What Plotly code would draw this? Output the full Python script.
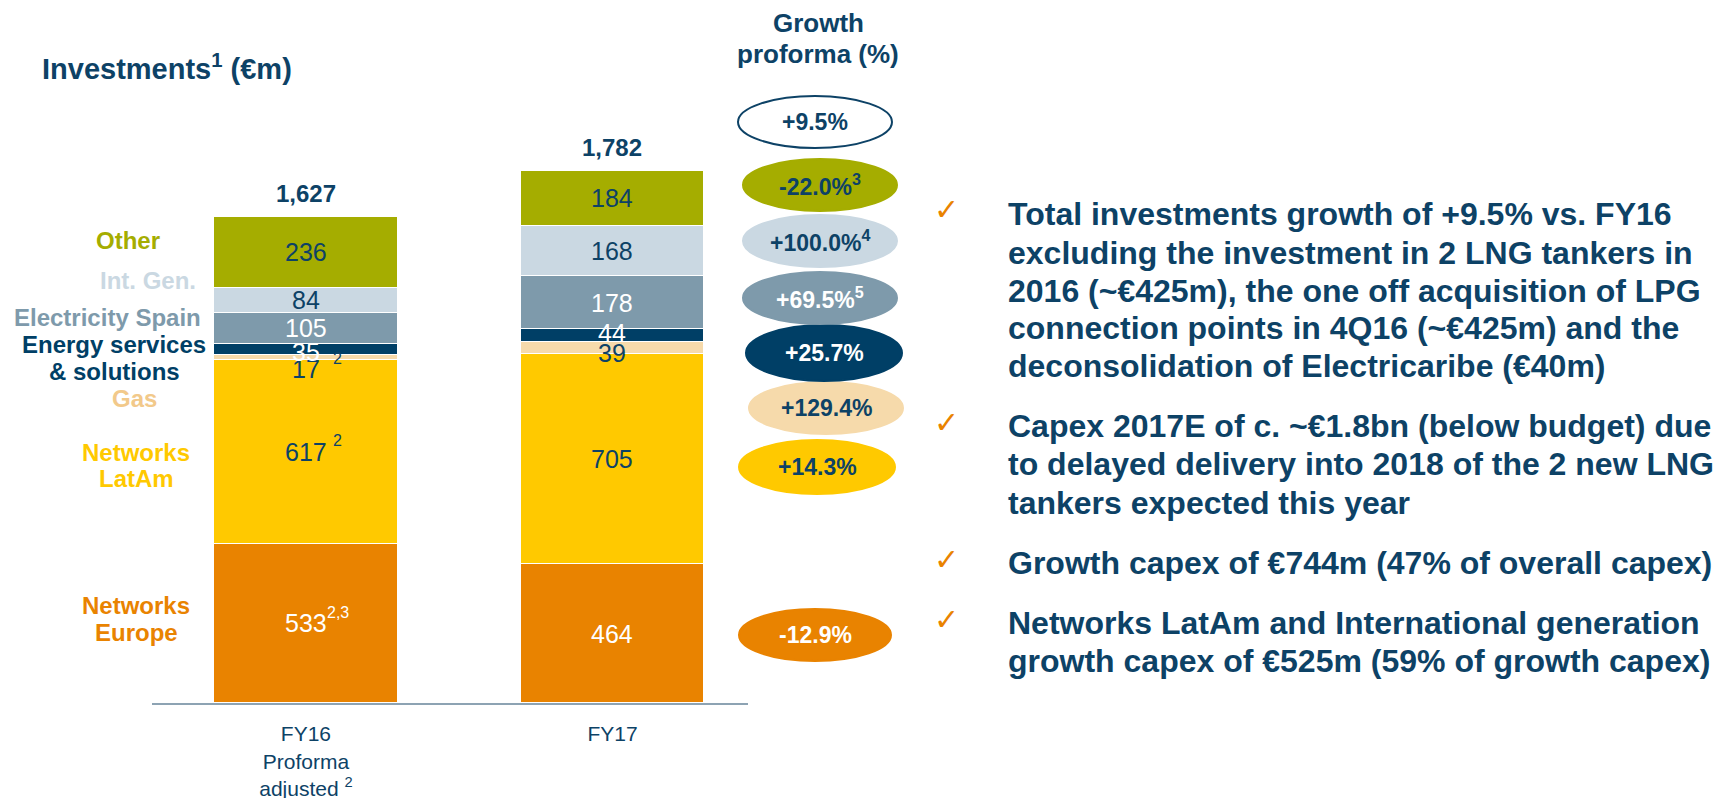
import plotly.graph_objects as go

# ---- data ----
bars = ["FY16", "FY17"]
tick_text = ["FY16<br>Proforma<br>adjusted <sup>2</sup>", "FY17"]
segments = ["Networks Europe", "Networks LatAm", "Gas", "Energy services & solutions",
            "Electricity Spain", "Int. Gen.", "Other"]
fy16 = [533, 617, 17, 35, 105, 84, 236]
fy17 = [464, 705, 39, 44, 178, 168, 184]
totals = [1627, 1782]
fy16_notes = ["2,3", "2", "2", "", "", "", ""]
growth = ["-12.9%", "+14.3%", "+129.4%", "+25.7%", "+69.5%<sup>5</sup>",
          "+100.0%<sup>4</sup>", "-22.0%<sup>3</sup>"]
total_growth = "+9.5%"
bullets = [
    ["Total investments growth of +9.5% vs. FY16",
     "excluding the investment in 2 LNG tankers in",
     "2016 (~€425m), the one off acquisition of LPG",
     "connection points in 4Q16 (~€425m) and the",
     "deconsolidation of Electricaribe (€40m)"],
    ["Capex 2017E of c. ~€1.8bn (below budget) due",
     "to delayed delivery into 2018 of the 2 new LNG",
     "tankers expected this year"],
    ["Growth capex of €744m (47% of overall capex)"],
    ["Networks LatAm and International generation",
     "growth capex of €525m (59% of growth capex)"],
]

# ---- styles ----
NAVY = "#0D4266"
FONT = "Arial, Liberation Sans, sans-serif"
OFFX, OFFY = 8, 7  # page body margin
W, H = 1725 - OFFX, 798
seg_colors = ["#E98300", "#FFC900", "#F6DAAB", "#003F66", "#7E9AAB", "#CAD8E2", "#A5AD00"]
val_colors = ["white", NAVY, NAVY, "white", "white", NAVY, NAVY]
name_colors = ["#E98300", "#FFC900", "#F2C98A", "#003F66", "#7E9AAB", "#CAD8E2", "#A5AD00"]
# label lines and pixel positions (centre x, centre y per line)
name_lines = [["Networks", "Europe"], ["Networks", "LatAm"], ["Gas"],
              ["Energy services", "& solutions"], ["Electricity Spain"], ["Int. Gen."], ["Other"]]
name_pos = [(136, [604, 631]), (136, [451, 477]), (134, [397]), (114, [343, 370]),
            (107, [316]), (148, [280]), (128, [239])]
# small nudges for labels on thin segments (pixels)
nudge = {(0, 2): -12, (0, 3): -3, (1, 2): -5, (1, 3): 3}
ell_pos = [(815, 634, 152, 52), (817, 466, 156, 54), (826, 407, 154, 52), (824, 352, 156, 56),
           (820, 297, 154, 52), (820, 240, 154, 52), (820, 184, 154, 52)]
ell_text = [NAVY if c != "white" else "white" for c in val_colors]
ell_text[0] = "white"
bullet_y = [[213, 252, 290, 327, 365], [425, 463, 502], [562], [622, 660]]


def px(x):
    return (x - OFFX) / W


def py(y):
    return 1 - (y - OFFY) / H


fig = go.Figure()
for i, name in enumerate(segments):
    fig.add_trace(go.Bar(
        x=[0, 1], y=[fy16[i], fy17[i]], name=name,
        marker=dict(color=seg_colors[i], line=dict(color="white", width=1)),
        width=0.6, showlegend=False, hoverinfo="y+name"))

# values inside bars
for b, vals in enumerate([fy16, fy17]):
    base = 0
    for i, v in enumerate(vals):
        fig.add_annotation(x=b, y=base + v / 2, text=str(v), showarrow=False,
                           yshift=nudge.get((b, i), 0),
                           font=dict(family=FONT, size=25, color=val_colors[i]))
        if b == 0 and fy16_notes[i]:
            fig.add_annotation(x=b, y=base + v / 2, text=fy16_notes[i], showarrow=False,
                               xshift=32, yshift=nudge.get((b, i), 0) + 11, xanchor="center",
                               font=dict(family=FONT, size=16, color=val_colors[i]))
        base += v
    fig.add_annotation(x=b, y=totals[b], text="<b>%s</b>" % f"{totals[b]:,}", showarrow=False,
                       yanchor="bottom", yshift=8,
                       font=dict(family=FONT, size=24, color=NAVY))

# segment names on the left
for i, lines in enumerate(name_lines):
    cx, ys = name_pos[i]
    for line, yy in zip(lines, ys):
        fig.add_annotation(xref="paper", yref="paper", x=px(cx), y=py(yy), text="<b>%s</b>" % line,
                           showarrow=False, xanchor="center", yanchor="middle",
                           font=dict(family=FONT, size=24, color=name_colors[i]))

# growth ellipses
shapes = []
ells = [(815, 121, 154, 52, "white", NAVY, total_growth)] + [
    ell_pos[i] + (seg_colors[i], ell_text[i], growth[i]) for i in range(len(segments))]
for cx, cy, w, h, fill, tcol, txt in ells:
    shapes.append(dict(type="circle", xref="paper", yref="paper",
                       x0=px(cx - w / 2), x1=px(cx + w / 2), y0=py(cy + h / 2), y1=py(cy - h / 2),
                       fillcolor=fill, line=dict(color=NAVY if fill == "white" else fill, width=2),
                       layer="below"))
    fig.add_annotation(xref="paper", yref="paper", x=px(cx), y=py(cy), text="<b>%s</b>" % txt,
                       showarrow=False, xanchor="center", yanchor="middle",
                       font=dict(family=FONT, size=23, color=tcol))

# headings
fig.add_annotation(xref="paper", yref="paper", x=px(40), y=py(66), text="<b>Investments<sup>1</sup> (€m)</b>",
                   showarrow=False, xanchor="left", yanchor="middle",
                   font=dict(family=FONT, size=29, color=NAVY))
for line, yy in zip(["Growth", "proforma (%)"], [22, 53]):
    fig.add_annotation(xref="paper", yref="paper", x=px(818), y=py(yy), text="<b>%s</b>" % line,
                       showarrow=False, xanchor="center", yanchor="middle",
                       font=dict(family=FONT, size=26, color=NAVY))

# bullet text
for lines, ys in zip(bullets, bullet_y):
    fig.add_annotation(xref="paper", yref="paper", x=px(946), y=py(ys[0] - 4), text="✓",
                       showarrow=False, xanchor="center", yanchor="middle",
                       font=dict(family="DejaVu Sans", size=30, color="#E98300"))
    for line, yy in zip(lines, ys):
        fig.add_annotation(xref="paper", yref="paper", x=px(1006), y=py(yy), text="<b>%s</b>" % line,
                           showarrow=False, xanchor="left", yanchor="middle",
                           font=dict(family=FONT, size=32, color=NAVY))

fig.update_layout(
    width=W, height=H, barmode="stack", bargap=0,
    margin=dict(l=0, r=0, t=0, b=0),
    paper_bgcolor="white", plot_bgcolor="white",
    shapes=shapes,
    xaxis=dict(domain=[px(152), px(748)], range=[-0.502, 1.442], tickvals=[0, 1], ticktext=tick_text,
               showline=True, linecolor="#8DA3B3", linewidth=2, showgrid=False, zeroline=False,
               ticks="", ticklabelstandoff=11, tickfont=dict(family=FONT, size=21, color=NAVY)),
    yaxis=dict(domain=[py(702), py(100)], range=[0, 2016], visible=False),
)

fig.write_html("out.html")
